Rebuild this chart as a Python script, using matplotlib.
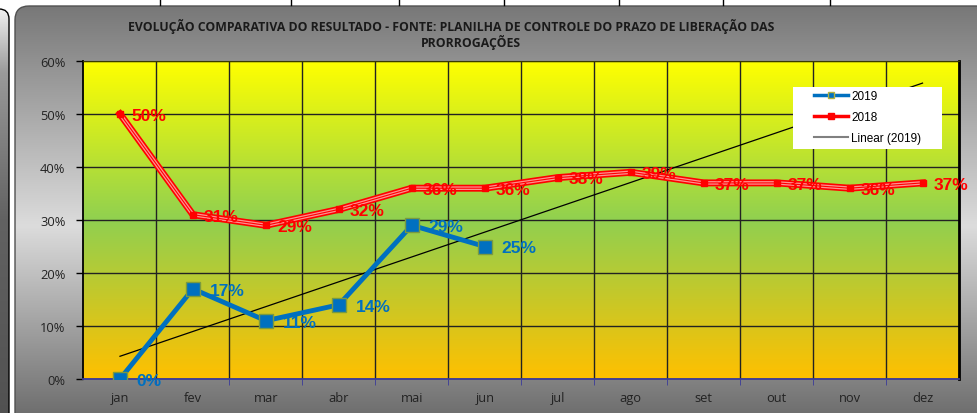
import numpy as np
import matplotlib
matplotlib.use("Agg")
import matplotlib.pyplot as plt
from matplotlib.colors import LinearSegmentedColormap
from matplotlib.patches import FancyBboxPatch, Rectangle
from matplotlib.lines import Line2D

# data
meses = ["jan", "fev", "mar", "abr", "mai", "jun", "jul", "ago", "set", "out", "nov", "dez"]
v2019 = [0, 17, 11, 14, 29, 25]
v2018 = [50, 31, 29, 32, 36, 36, 38, 39, 37, 37, 36, 37]
titulo1 = "EVOLUÇÃO COMPARATIVA DO RESULTADO - FONTE: PLANILHA DE CONTROLE DO PRAZO DE LIBERAÇÃO DAS"
titulo2 = "PRORROGAÇÕES"

W, H = 978, 414
fig = plt.figure(figsize=(W / 100, H / 100), dpi=100)
fig.patch.set_facecolor("white")

# background (chart frame, pixel coords)
bg = fig.add_axes([0, 0, 1, 1], zorder=-5)
bg.set_xlim(0, W)
bg.set_ylim(H, 0)
bg.axis("off")

gray = LinearSegmentedColormap.from_list("g", [(0, "#787878"), (0.52, "#dcdcdc"), (1, "#666666")])
frame = FancyBboxPatch((15, 7), 975, 423, boxstyle="round,pad=0,rounding_size=14",
                       facecolor="none", edgecolor="#505050", lw=1)
bg.add_patch(frame)
im = bg.imshow(np.linspace(0, 1, 256).reshape(-1, 1), cmap=gray, aspect="auto",
               extent=(15, 990, 430, 7), zorder=0)
im.set_clip_path(frame)

left = FancyBboxPatch((-30, 10), 39, 420, boxstyle="round,pad=0,rounding_size=10",
                      facecolor="none", edgecolor="black", lw=1)
bg.add_patch(left)
strip = LinearSegmentedColormap.from_list("s", [(0, "#f0f0f0"), (0.15, "#9a9a9a"), (0.5, "#626262"), (1, "#505050")])
im2 = bg.imshow(np.linspace(0, 1, 256).reshape(-1, 1), cmap=strip, aspect="auto",
                extent=(-30, 9, 430, 10), zorder=0)
im2.set_clip_path(left)

# spreadsheet cell borders at the top
for xc in [160, 291, 399, 504, 619, 723, 830]:
    bg.plot([xc, xc], [0, 6], color="black", lw=1)
bg.set_xlim(0, W)
bg.set_ylim(H, 0)

fig.text(451 / W, 1 - 26 / H, titulo1, ha="center", va="center", fontsize=8.8,
         fontweight="bold", family="Open Sans", color="#1a1a1a")
fig.text(471 / W, 1 - 42 / H, titulo2, ha="center", va="center", fontsize=8.8,
         fontweight="bold", family="Open Sans", color="#1a1a1a")

# plot area
ax = fig.add_axes([83.5 / W, 1 - 380 / H, (959 - 83.5) / W, 318 / H])
x = np.arange(len(meses))
x19 = np.arange(len(v2019))

area = LinearSegmentedColormap.from_list("a", [(0, "#ffff00"), (0.5, "#90d050"), (1, "#ffc000")])
ax.imshow(np.linspace(0, 1, 256).reshape(-1, 1), cmap=area, aspect="auto",
          extent=(-0.5, len(meses) - 0.5, 0, 60), zorder=0)

ax.set_xlim(-0.5, len(meses) - 0.5)
ax.set_ylim(0, 60)

# grid
ax.set_yticks(range(0, 61, 10))
ax.set_yticklabels([f"{v}%" for v in range(0, 61, 10)])
ax.set_xticks(x)
ax.set_xticklabels(meses)
ax.set_xticks(np.arange(0.5, len(meses) - 0.5, 1), minor=True)
ax.grid(True, axis="y", which="major", color="#222222", lw=1, zorder=1)
ax.grid(True, axis="x", which="minor", color="#222222", lw=1, zorder=1)
ax.tick_params(axis="x", which="major", length=0, pad=9, labelsize=9.3, labelcolor="#222222")
ax.tick_params(axis="x", which="minor", length=4, color="#3a3a9a", direction="out")
ax.tick_params(axis="y", length=5, width=1, pad=8, labelsize=9.3, labelcolor="#222222")
for lab in ax.get_xticklabels() + ax.get_yticklabels():
    lab.set_family("Open Sans")
ax.spines["left"].set_color("black")
ax.spines["left"].set_lw(1.3)
ax.spines["bottom"].set_color("#3a3a9a")
ax.spines["bottom"].set_lw(1.3)
ax.spines["top"].set_color("#3a3a00")
ax.spines["right"].set_color("black")
ax.spines["right"].set_lw(2)

# 2018 (double line)
ax.plot(x, v2018, color="red", lw=5, zorder=3, solid_joinstyle="miter")
ax.plot(x, v2018, color="#ff9090", lw=2.6, zorder=3)
ax.plot(x, v2018, color="red", lw=0.8, zorder=3, marker="s", ms=5, mfc="red", mec="red")

# 2019
ax.plot(x19, v2019, color="#0070c0", lw=3.5, zorder=4, marker="s", ms=10,
        mfc="#0070c0", mec="#7a9a40", mew=1)

# linear trend of 2019
a, b = np.polyfit(x19, v2019, 1)
ax.plot(x, a * x + b, color="black", lw=0.9, zorder=2)

for xi, v in zip(x, v2018):
    ax.annotate(f"{v}%", (xi, v), xytext=(8, -1), textcoords="offset points",
                ha="left", va="center", color="red", fontsize=12.5, fontweight="bold",
                family="Liberation Sans", zorder=6)
for xi, v in zip(x19, v2019):
    ax.annotate(f"{v}%", (xi, v), xytext=(12, -1), textcoords="offset points",
                ha="left", va="center", color="#0070c0", fontsize=12.5, fontweight="bold",
                family="Liberation Sans", zorder=6)

# legend box
ax.add_patch(Rectangle(((793 - 83.5) / 875.5, (380 - 150) / 318), 149 / 875.5, 62 / 318,
                       transform=ax.transAxes, facecolor="white", edgecolor="none", zorder=7))
handles = [
    Line2D([], [], color="#0070c0", lw=2.5, marker="s", ms=4, mfc="#0070c0", mec="#b0b040"),
    Line2D([], [], color="red", lw=2.5, marker="s", ms=4, mfc="red", mec="red"),
    Line2D([], [], color="#808080", lw=1.5),
]
leg = ax.legend(handles, ["2019", "2018", "Linear (2019)"], loc="upper left",
                bbox_to_anchor=((814 - 83.5) / 875.5, (380 - 91) / 318),
                borderaxespad=0, borderpad=0, frameon=False, handlelength=2.9,
                labelspacing=0.78, handletextpad=0.25,
                prop={"family": "Liberation Sans", "size": 8.5})
leg.set_zorder(8)

fig.savefig("out.png", dpi=100)
